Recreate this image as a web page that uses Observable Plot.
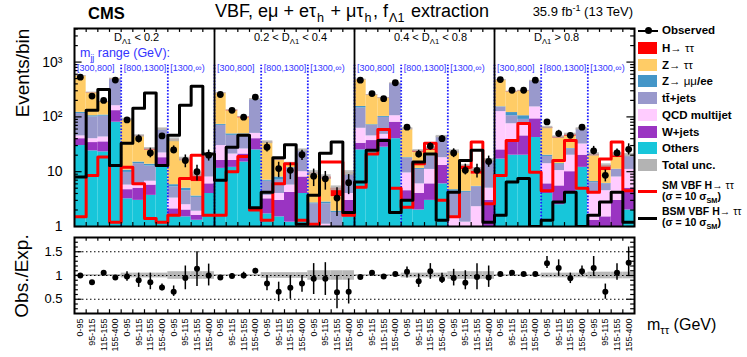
<!DOCTYPE html>
<html><head><meta charset="utf-8">
<script src="https://cdn.jsdelivr.net/npm/d3@7"></script>
<script src="https://cdn.jsdelivr.net/npm/@observablehq/plot@0.6"></script>
<style>
body{margin:0;background:#fff;}
#root{position:relative;width:747px;height:357px;overflow:hidden;font-family:"Liberation Sans",Arial,Helvetica,sans-serif;color:#000;background:#fff;}
.abs{position:absolute;white-space:nowrap;line-height:1;}
.abs sub{font-size:70%;vertical-align:-0.4em;line-height:0;}
.abs sup{font-size:70%;vertical-align:0.5em;line-height:0;}
.title sub{margin:0 1.5px 0 1px;}
.svgbox{position:absolute;left:0;}
.lgbox{position:absolute;width:19px;height:12px;}
.lgtxt{position:absolute;font-weight:bold;font-size:11.5px;white-space:nowrap;line-height:1;}
.lgtxt .n{font-weight:normal;}
.lgtxt sub{font-size:70%;vertical-align:-0.4em;line-height:0;}
</style></head><body><div id="root"></div>
<script>
// ---- data (48 bins: 4 D regions x 3 mjj ranges x 4 mtt bins) ----
const dRegions = ["D<sub>Λ1</sub> &lt; 0.2","0.2 &lt; D<sub>Λ1</sub> &lt; 0.4","0.4 &lt; D<sub>Λ1</sub> &lt; 0.8","D<sub>Λ1</sub> &gt; 0.8"];
const mjjRanges = ["[300,800]","[800,1300]","[1300,∞)"];
const mttLabels = ["0-95","95-115","115-155","155-400"];
const others = [30,24,23,80, 3.2,3,3.7,12, 1.6,1.5,1.3,4, 11.5,12,15,25, 1.7,1.5,1.2,4, 0.1,0.5,0.3,1.5, 25,25,28,40, 3,2,3,6, 0.3,0.3,0.3,1, 17,20,20,42, 4,2.5,4,12, 0.3,0.5,1,2];
const wjets  = [10,10,12,50, 1.5,2,2,6, 0.5,0.5,0.3,2, 4.5,4,6,15, 1.5,1.5,3,4, 0.3,0.3,0.3,1.5, 8,12,12,40, 1.5,2,3,7, 0.6,0.4,0.5,2, 8,15,25,50, 2,3,6,8, 1,1,2,3];
const qcd    = [5,6,8,30, 1,1,1,4, 1.2,0.5,0.3,2, 14,5,5,10, 0.5,1,1.5,2, 0.2,0.3,0.2,1, 29,8,8,25, 5,2,5,5, 0.5,0.5,1.5,2, 100,40,25,60, 8,5,10,12, 3,3,5,6];
const ttbar  = [70,60,60,320, 4,8,6,36, 2,2,1.5,11, 40,25,20,155, 3,3,6,14, 2,1.5,1,5, 83,25,50,300, 8,5,8,25, 3,3,3,10.5, 25,30,20,300, 5,3,6,27, 2,1.5,3,8.5];
const zll    = [6,5,5,5, 1,1,1,0.5, 0.5,0.5,0.2,0.2, 3,3,3,2, 0.3,1,0.2,0.2, 0.1,0.2,0.1,0.1, 10,2,4,1, 0.5,0.5,0.5,0.2, 0.3,0.2,0.1,0.1, 3,15,15,1, 1,0.5,0.5,0.3, 0.3,0.1,0.1,0.1];
const ztt    = [430,170,75,10, 78,29,11,1, 32,11,3,0.5, 195,80,47,3, 27,8,1.5,0.3, 6.5,4.5,1.6,0.3, 320,175,115,2, 42,11,5,0.3, 18,6.5,3.6,0.3, 310,165,190,2, 42,27,18,0.5, 13,4.4,7,0.3];
const htt    = [3,3,5,3, 1,1,1.5,0.5, 0.5,1,2.2,0.3, 2,3,4,1, 0.5,1,0.6,0.1, 0.3,0.7,1.5,0.1, 3,3,3,1, 0.5,1.5,2.5,0.2, 0.5,1.6,2,0.1, 4,4,5,1, 2,2,3.5,0.5, 1.1,2.5,2.7,0.1];
const observed = [530,240,200,470, 88,40,22,45, 25,16,10,20, 256,132,99,230, 28,11.4,10.6,20.4, 8.3,7.4,3.3,6.3, 467,266,215,420, 65,21,29.4,40, 22,10.6,10.6,15.4, 480,306,306,467, 81,49.6,46,65, 24,8.6,22,25.6];
const ratio   = [1.0,0.86,1.06,0.96, 0.98,0.9,0.86,0.75, 0.66,0.95,1.14,1.0, 0.96,0.99,1.0,1.1, 0.83,0.66,0.74,0.83, 0.93,0.93,0.65,0.66, 0.97,1.06,0.98,1.03, 1.08,0.88,1.09,0.92, 0.95,0.85,0.97,0.96, 1.03,1.06,1.03,1.03, 1.26,1.16,0.94,1.09, 1.16,0.66,1.06,1.27];
const ratioLo = [0.98,0.84,1.03,0.94, 0.88,0.75,0.7,0.68, 0.56,0.7,0.77,0.78, 0.94,0.94,0.93,1.05, 0.68,0.45,0.5,0.65, 0.6,0.58,0.3,0.4, 0.95,1.03,0.96,1.0, 0.95,0.75,0.92,0.83, 0.78,0.7,0.7,0.75, 1.0,1.03,1.0,1.0, 1.15,1.0,0.83,1.0, 0.98,0.5,0.9,1.0];
const ratioHi = [1.02,0.88,1.09,0.98, 1.08,1.05,1.05,0.82, 0.78,1.2,1.5,1.24, 0.98,1.04,1.07,1.15, 1.0,0.86,1.0,1.0, 1.25,1.27,1.0,0.93, 0.99,1.09,1.0,1.06, 1.18,1.03,1.25,1.05, 1.13,1.1,1.25,1.2, 1.06,1.09,1.06,1.06, 1.4,1.33,1.05,1.2, 1.4,0.82,1.25,1.6];
const totalUnc = [0.02,0.02,0.02,0.02, 0.05,0.05,0.05,0.05, 0.08,0.08,0.08,0.08, 0.02,0.02,0.02,0.02, 0.06,0.06,0.06,0.06, 0.1,0.1,0.1,0.1, 0.02,0.02,0.02,0.02, 0.05,0.05,0.05,0.05, 0.08,0.08,0.08,0.08, 0.02,0.02,0.02,0.02, 0.05,0.05,0.05,0.05, 0.07,0.07,0.07,0.07];
const smVBF  = [1.5,8.5,18.5,1.2, 12,6,1.4,1.2, 1.6,7.5,20,1.6, 1.6,10,19,2, 1.3,6,14,1.3, 1.1,15,15,1.6, 5.2,21,59,5, 2.25,14,33,3, 1.5,12,35,2.6, 8.5,37,76,9.8, 4.5,16,37,5, 4.2,17,35,4.5];
const bsmVBF = [8,132,316,13, 33,144,274,13, 46,163,363,21, 7,28,46,2.2, 4.2,18,31,1.1, 3.7,21.6,35,1.8, 6.5,24.5,37,1.8, 3,15,21,1.3, 4.2,16,24.5,1.2, 1.6,6.5,7.5,1, 1.3,2.8,4.2,1, 1.6,2.8,4.2,1.2];
const yTicks = [1,10,100,1000];
const yTickLabels = ["1","10","10²","10³"];
const ratioTicks = [0.5,1,1.5];
const ratioTickLabels = ["0.5","1","1.5"];

const components = [
  {name:"Others", vals:others, color:"#17c6da"},
  {name:"W+jets", vals:wjets, color:"#9a34c2"},
  {name:"QCD multijet", vals:qcd, color:"#ffccff"},
  {name:"tt̄+jets", vals:ttbar, color:"#9999cc"},
  {name:"Z→ μμ/ee", vals:zll, color:"#4496c8"},
  {name:"Z→ ττ", vals:ztt, color:"#ffcc66"},
  {name:"H→ ττ", vals:htt, color:"#ff0000"}
];
const N = observed.length;
const YMIN = 1, YMAX = 4100;
const font = '"Liberation Sans",Arial,Helvetica,sans-serif';

const stackRows = components.map(() => []);
const totals = [];
for (let i = 0; i < N; i++) {
  let cum = 0;
  components.forEach((c, k) => {
    const v = c.vals[i];
    stackRows[k].push({x1: i, x2: i + 1, y1: Math.max(cum, 0.3), y2: Math.max(cum + v, 0.3)});
    cum += v;
  });
  totals.push(cum);
}
const bins = d3.range(N).map(i => ({
  i, c: i + 0.5, obs: observed[i],
  lo: observed[i] * ratioLo[i] / ratio[i], hi: observed[i] * ratioHi[i] / ratio[i],
  t1: totals[i] * (1 - totalUnc[i]), t2: totals[i] * (1 + totalUnc[i]),
  r: ratio[i], rlo: ratioLo[i], rhi: ratioHi[i], u1: 1 - totalUnc[i], u2: 1 + totalUnc[i]
}));
function steps(arr) {
  const s = arr.map((v, i) => ({x: i, y: v}));
  s.push({x: N, y: arr[N - 1]});
  return s;
}
const minorY = [];
for (const p of [1,10,100,1000]) for (let m = 2; m <= 9; m++) if (m * p < YMAX) minorY.push(m * p);
const mjjLines = d3.range(1, 12).map(k => k * 4);
const regionLines = [12, 24, 36];
const edges = d3.range(1, N);

const main = Plot.plot({
  width: 747, height: 242,
  marginLeft: 74, marginRight: 113, marginTop: 28, marginBottom: 16,
  style: {fontFamily: font, background: "transparent"},
  x: {domain: [0, N], axis: null},
  y: {type: "log", domain: [YMIN, YMAX], axis: null},
  marks: [
    ...components.map((c, k) => Plot.rect(stackRows[k], {x1: "x1", x2: "x2", y1: "y1", y2: "y2", fill: c.color, clip: true})),
    Plot.rect(bins, {x1: d => d.i, x2: d => d.i + 1, y1: "t1", y2: "t2", fill: "#b3b3b3", fillOpacity: 0.85, clip: true}),
    Plot.ruleX(mjjLines, {y1: YMIN, y2: 880, stroke: "#1a1aff", strokeWidth: 1.8, strokeDasharray: "1.6,1.6"}),
    Plot.ruleX(regionLines, {stroke: "#000", strokeWidth: 1.8}),
    Plot.line(steps(smVBF), {x: "x", y: "y", curve: "step-after", stroke: "#ff0000", strokeWidth: 3, clip: true}),
    Plot.line(steps(bsmVBF), {x: "x", y: "y", curve: "step-after", stroke: "#000", strokeWidth: 3, clip: true}),
    Plot.ruleX(bins, {x: "c", y1: "lo", y2: "hi", stroke: "#000", strokeWidth: 1.5, clip: true}),
    Plot.dot(bins, {x: "c", y: "obs", r: 3.4, fill: "#000", stroke: "none"}),
    Plot.ruleY(yTicks, {x1: 0, x2: 0.65, stroke: "#000", strokeWidth: 1.2}),
    Plot.ruleY(minorY, {x1: 0, x2: 0.33, stroke: "#000", strokeWidth: 1.2}),
    Plot.ruleY(yTicks, {x1: N - 0.65, x2: N, stroke: "#000", strokeWidth: 1.2}),
    Plot.ruleY(minorY, {x1: N - 0.33, x2: N, stroke: "#000", strokeWidth: 1.2}),
    Plot.ruleX(edges, {y1: YMIN, y2: 1.18, stroke: "#000", strokeWidth: 1.2}),
    Plot.ruleX(edges, {y1: YMAX / 1.18, y2: YMAX, stroke: "#000", strokeWidth: 1.2}),
    Plot.frame({stroke: "#000", strokeWidth: 2}),
    Plot.axisY(yTicks, {tickSize: 0, tickPadding: 12, fontSize: 14, tickFormat: d => yTickLabels[yTicks.indexOf(d)], label: null})
  ]
});

const RMIN = 0.2, RMAX = 1.8;
const ratioMinor = d3.range(3, 18).map(k => k / 10).filter(v => Math.abs(v * 2 - Math.round(v * 2)) > 1e-6);
const ratioPlot = Plot.plot({
  width: 747, height: 125,
  marginLeft: 74, marginRight: 113, marginTop: 5, marginBottom: 44,
  style: {fontFamily: font, background: "transparent"},
  x: {domain: [0, N], axis: null},
  y: {domain: [RMIN, RMAX], axis: null},
  marks: [
    Plot.rect(bins, {x1: d => d.i, x2: d => d.i + 1, y1: "u1", y2: "u2", fill: "#b8b8b8"}),
    Plot.ruleY(ratioTicks, {stroke: "#000", strokeWidth: 1, strokeDasharray: "1.5,2.5"}),
    Plot.ruleX(bins, {x: "c", y1: "rlo", y2: "rhi", stroke: "#000", strokeWidth: 1.5, clip: true}),
    Plot.dot(bins, {x: "c", y: "r", r: 3, fill: "#000", stroke: "none", clip: true}),
    Plot.ruleY(ratioTicks, {x1: 0, x2: 0.65, stroke: "#000", strokeWidth: 1.2}),
    Plot.ruleY(ratioTicks, {x1: N - 0.65, x2: N, stroke: "#000", strokeWidth: 1.2}),
    Plot.ruleY(ratioMinor, {x1: 0, x2: 0.33, stroke: "#000", strokeWidth: 1.2}),
    Plot.ruleY(ratioMinor, {x1: N - 0.33, x2: N, stroke: "#000", strokeWidth: 1.2}),
    Plot.ruleX(edges, {y1: RMIN, y2: RMIN + 0.08, stroke: "#000", strokeWidth: 1.2}),
    Plot.ruleX(edges, {y1: RMAX - 0.08, y2: RMAX, stroke: "#000", strokeWidth: 1.2}),
    Plot.frame({stroke: "#000", strokeWidth: 2}),
    Plot.axisY(ratioTicks, {tickSize: 0, tickPadding: 12, fontSize: 13, tickFormat: d => ratioTickLabels[ratioTicks.indexOf(d)], label: null}),
    Plot.axisX(d3.range(N).map(i => i + 0.5), {tickSize: 0, tickPadding: 5, tickRotate: -90, fontSize: 9, tickFormat: d => mttLabels[Math.floor(d) % 4], label: null})
  ]
});

const root = document.getElementById("root");
function place(el, top) { const w = document.createElement("div"); w.className = "svgbox"; w.style.top = top + "px"; w.appendChild(el); root.appendChild(w); }
place(main, 0);
place(ratioPlot, 232);

function text(html, css, cls) { const d = document.createElement("div"); d.className = "abs" + (cls ? " " + cls : ""); d.innerHTML = html; Object.assign(d.style, css); root.appendChild(d); return d; }

text("CMS", {left: "88px", top: "5px", fontSize: "16.5px", fontWeight: "bold"});
text("VBF, eμ + eτ<sub>h</sub> + μτ<sub>h</sub>, f<sub>Λ1</sub> extraction", {left: "215px", top: "2px", fontSize: "18px"}, "title");
text("35.9 fb<sup>-1</sup> (13 TeV)", {right: "114px", top: "5px", fontSize: "13px"});
text("Events/bin", {left: "22px", top: "73px", fontSize: "19px", transform: "translate(-50%,-50%) rotate(-90deg)"});
text("Obs./Exp.", {left: "21px", top: "276px", fontSize: "19px", transform: "translate(-50%,-50%) rotate(-90deg)"});
text("m<sub>ττ</sub> (GeV)", {left: "647px", top: "317px", fontSize: "16px"});
const xpx = i => 74 + i * (560 / N);
dRegions.forEach((t, r) => text(t, {left: (xpx(r * 12) + 40) + "px", top: "32px", fontSize: "11px"}));
text("m<sub>jj</sub> range (GeV):", {left: "80px", top: "47px", fontSize: "12.5px", color: "#3333ff"});
for (let r = 0; r < 4; r++) mjjRanges.forEach((t, m) => text(t, {left: (xpx(r * 12 + m * 4) + 3) + "px", top: "64px", fontSize: "9px", color: "#3333ff"}));

const lg = [
  {name: "H<span class='n'>→ ττ</span>", color: "#ff0000"}, {name: "Z<span class='n'>→ ττ</span>", color: "#ffcc66"}, {name: "Z<span class='n'>→ μμ</span>/ee", color: "#4496c8"},
  {name: "tt̄+jets", color: "#9999cc"}, {name: "QCD multijet", color: "#ffccff"}, {name: "W+jets", color: "#9a34c2"},
  {name: "Others", color: "#17c6da"}, {name: "Total unc.", color: "#b3b3b3"}
];
function lgText(html, top, size) { const d = document.createElement("div"); d.className = "lgtxt"; d.innerHTML = html; d.style.left = "662px"; d.style.top = top + "px"; if (size) d.style.fontSize = size; root.appendChild(d); }
const om = document.createElement("div"); om.style.cssText = "position:absolute;left:638px;top:30px;width:20px;height:1.5px;background:#000"; root.appendChild(om);
const om2 = document.createElement("div"); om2.style.cssText = "position:absolute;left:644.5px;top:27px;width:7px;height:7px;border-radius:50%;background:#000"; root.appendChild(om2);
lgText("Observed", 25);
lg.forEach((e, k) => {
  const top = 42 + k * 16.7;
  const b = document.createElement("div"); b.className = "lgbox"; b.style.left = "638px"; b.style.top = top + "px"; b.style.background = e.color; root.appendChild(b);
  lgText(e.name, top + 1);
});
const l1 = document.createElement("div"); l1.style.cssText = "position:absolute;left:638px;top:190px;width:19px;height:3px;background:#ff0000"; root.appendChild(l1);
lgText("SM VBF H<span class='n'>→ ττ</span>", 180, "10.5px");
lgText("(σ = 10 σ<sub>SM</sub>)", 191, "10.5px");
const l2 = document.createElement("div"); l2.style.cssText = "position:absolute;left:638px;top:217px;width:19px;height:3px;background:#000"; root.appendChild(l2);
lgText("BSM VBF H<span class='n'>→ ττ</span>", 206, "10.5px");
lgText("(σ = 10 σ<sub>SM</sub>)", 217, "10.5px");
</script>
</body></html>
